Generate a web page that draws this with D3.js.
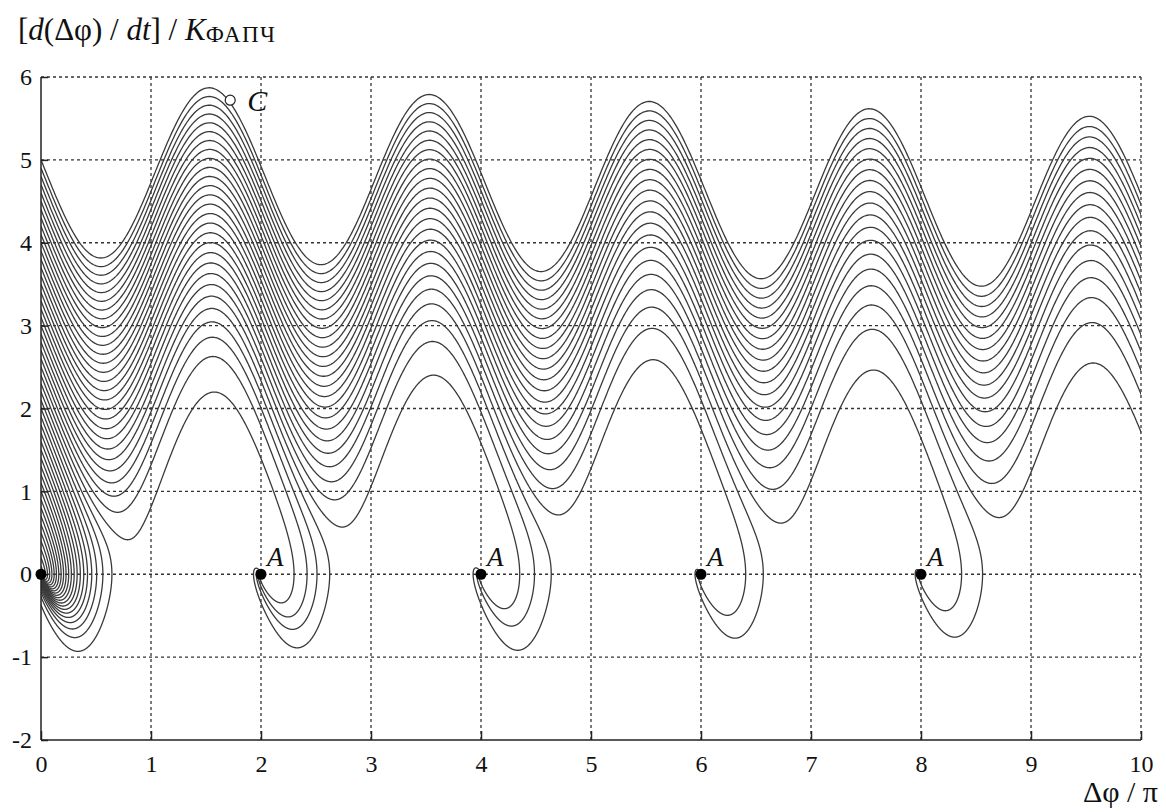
<!DOCTYPE html>
<html lang="ru">
<head>
<meta charset="UTF-8" />
<title>Фазовый портрет ФАПЧ</title>
<style>
  html, body {
    margin: 0;
    padding: 0;
    background: #fff;
    overflow: hidden;
  }
  svg text {
    font-family: "Liberation Serif", "DejaVu Serif", serif;
    fill: #111;
  }
  .grid line {
    stroke: #333;
    stroke-width: 1.3;
    stroke-dasharray: 3 3;
  }
  .traj {
    fill: none;
    stroke: #3a3a3a;
    stroke-width: 1.3;
  }
  .axis path, .axis line {
    stroke: #222;
    stroke-width: 1.5;
  }
  .axis text {
    font-size: 24px;
  }
</style>
</head>
<body>
<svg id="chart" width="1166" height="812"></svg>

<script src="https://d3js.org/d3.v7.min.js"></script>
<script>
// starting values of d(Δφ)/dt / K on the left edge (Δφ = 0)
const startValues = [
  0.1, 0.2, 0.3, 0.4, 0.5, 0.6, 0.7, 0.8, 0.9, 1.0,
  1.1, 1.2, 1.3, 1.4, 1.5, 1.6, 1.7, 1.8, 1.9, 2.0,
  2.1, 2.2, 2.3, 2.4, 2.5, 2.6, 2.7, 2.8, 2.9, 3.0,
  3.1, 3.2, 3.3, 3.4, 3.5, 3.6, 3.7, 3.8, 3.9, 4.0,
  4.1, 4.2, 4.3, 4.4, 4.5, 4.6, 4.7, 4.8, 4.9, 5.0
];
// loop parameters (filter gain and 1/(K*T))
const filterGain = 1.04;
const loopCoef = 0.55;

const stablePoints = [0, 2, 4, 6, 8];      // points A, Δφ/π
const pointC = { x: 1.72, y: 5.72 };
const xTicks = [0, 1, 2, 3, 4, 5, 6, 7, 8, 9, 10];
const yTicks = [-2, -1, 0, 1, 2, 3, 4, 5, 6];

const svg = d3.select("#chart");
const plotLeft = 41, plotRight = 1141, plotTop = 77, plotBottom = 740;

const x = d3.scaleLinear().domain([0, 10]).range([plotLeft, plotRight]);
const y = d3.scaleLinear().domain([-2, 6]).range([plotBottom, plotTop]);

// grid
const grid = svg.append("g").attr("class", "grid");
grid.selectAll(".gx")
  .data(xTicks.filter(d => d > 0))
  .join("line")
  .attr("x1", d => x(d)).attr("x2", d => x(d))
  .attr("y1", plotTop).attr("y2", plotBottom);
grid.selectAll(".gy")
  .data(yTicks.filter(d => d > -2))
  .join("line")
  .attr("x1", plotLeft).attr("x2", plotRight)
  .attr("y1", d => y(d)).attr("y2", d => y(d));

// trajectories: phase plane of the loop, integrated in normalized time
function trajectory(y0) {
  let phi = 0, v = y0;
  const dt = 0.004;
  const pts = [[0, y0]];
  const f = (p, w) => [w, -filterGain * Math.cos(p) * w - loopCoef * Math.sin(p)];
  for (let i = 0; i < 20000; i++) {
    const k1 = f(phi, v);
    const k2 = f(phi + dt / 2 * k1[0], v + dt / 2 * k1[1]);
    const k3 = f(phi + dt / 2 * k2[0], v + dt / 2 * k2[1]);
    const k4 = f(phi + dt * k3[0], v + dt * k3[1]);
    phi += dt / 6 * (k1[0] + 2 * k2[0] + 2 * k3[0] + k4[0]);
    v += dt / 6 * (k1[1] + 2 * k2[1] + 2 * k3[1] + k4[1]);
    if (i % 2 === 0) pts.push([phi / Math.PI, v]);
    if (phi / Math.PI > 10.2 || phi / Math.PI < -0.3) break;
    const n = Math.round(phi / (2 * Math.PI));
    const dp = phi - n * 2 * Math.PI;
    if (dp * dp + v * v < 1e-7) break;
  }
  pts.push([phi / Math.PI, v]);
  return pts;
}

svg.append("clipPath").attr("id", "plotClip")
  .append("rect")
  .attr("x", plotLeft).attr("y", plotTop)
  .attr("width", plotRight - plotLeft).attr("height", plotBottom - plotTop);

const line = d3.line().x(d => x(d[0])).y(d => y(d[1]));

svg.append("g")
  .attr("clip-path", "url(#plotClip)")
  .selectAll("path")
  .data(startValues.map(trajectory))
  .join("path")
  .attr("class", "traj")
  .attr("d", line);

// axes (plain hyphen for negatives, like the original)
const tickText = d => String(d);

svg.append("g")
  .attr("class", "axis")
  .attr("transform", `translate(0,${plotBottom})`)
  .call(d3.axisBottom(x).tickValues(xTicks).tickSize(-9).tickPadding(15).tickFormat(tickText))
  .call(g => g.select(".domain").attr("d", `M${plotLeft},0H${plotRight}`))
  .attr("font-family", null).attr("font-size", null);

svg.append("g")
  .attr("class", "axis")
  .attr("transform", `translate(${plotLeft},0)`)
  .call(d3.axisLeft(y).tickValues(yTicks).tickSize(-7).tickPadding(9).tickFormat(tickText))
  .call(g => g.select(".domain").attr("d", `M0,${plotTop}V${plotBottom}`))
  .attr("font-family", null).attr("font-size", null);

// points A
svg.selectAll(".ptA")
  .data(stablePoints)
  .join("circle")
  .attr("cx", d => x(d)).attr("cy", y(0))
  .attr("r", 5.5)
  .attr("fill", "#000");

svg.selectAll(".lblA")
  .data(stablePoints.filter(d => d > 0))
  .join("text")
  .attr("x", d => x(d) + 6).attr("y", y(0) - 8)
  .attr("font-size", 27)
  .attr("font-style", "italic")
  .text("A");

// point C
svg.append("circle")
  .attr("cx", x(pointC.x)).attr("cy", y(pointC.y))
  .attr("r", 5)
  .attr("fill", "#fff")
  .attr("stroke", "#222")
  .attr("stroke-width", 1.2);

svg.append("text")
  .attr("x", x(pointC.x) + 17).attr("y", y(pointC.y) + 11)
  .attr("font-size", 30)
  .attr("font-style", "italic")
  .text("C");

// axis titles
const yTitle = svg.append("text")
  .attr("x", 18).attr("y", 40)
  .attr("font-size", 31);
yTitle.append("tspan").text("[");
yTitle.append("tspan").attr("font-style", "italic").text("d");
yTitle.append("tspan").text("(Δφ) / ");
yTitle.append("tspan").attr("font-style", "italic").text("dt");
yTitle.append("tspan").text("] / ");
yTitle.append("tspan").attr("font-style", "italic").text("K");
yTitle.append("tspan").attr("font-size", 23).attr("letter-spacing", 1.5).attr("dy", 2).text("ФАПЧ");

svg.append("text")
  .attr("x", 1158).attr("y", 802)
  .attr("text-anchor", "end")
  .attr("font-size", 30)
  .text("Δφ / π");
</script>
</body>
</html>
